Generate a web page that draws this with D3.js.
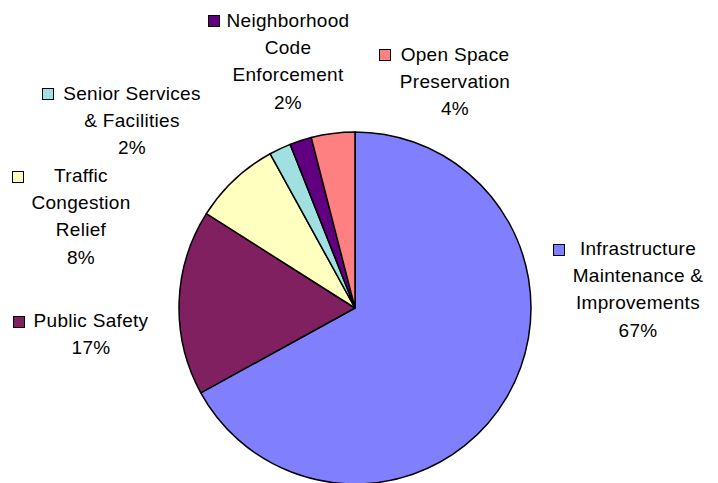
<!DOCTYPE html>
<html>
<head>
<meta charset="utf-8">
<script src="https://cdn.jsdelivr.net/npm/d3@7/dist/d3.min.js"></script>
<style>
  html, body { margin: 0; padding: 0; background: #fff; }
  svg { display: block; }
  text { font-family: "Liberation Sans", Arial, sans-serif; font-size: 19px; letter-spacing: 0.3px; fill: #000; }
</style>
</head>
<body>
<div id="chart"></div>
<script>
// Budget shares by category (percent), clockwise from 12 o'clock
const categories = [
  "Infrastructure\nMaintenance &\nImprovements",
  "Public Safety",
  "Traffic\nCongestion\nRelief",
  "Senior Services\n& Facilities",
  "Neighborhood\nCode\nEnforcement",
  "Open Space\nPreservation"
];
const values = [67, 17, 8, 2, 2, 4];
const colors = ["#8080FF", "#802060", "#FFFFC0", "#A0E0E0", "#600080", "#FF8080"];

// Label block placement: centre x of the text, first baseline, legend key corner
const labelLayout = [
  { cx: 638, y0: 255, kx: 553, ky: 244 },
  { cx: 91,  y0: 327, kx: 13,  ky: 316 },
  { cx: 81,  y0: 182, kx: 12,  ky: 171 },
  { cx: 132, y0: 100, kx: 42,  ky: 88 },
  { cx: 288, y0: 27,  kx: 208, ky: 15 },
  { cx: 455, y0: 61,  kx: 379, ky: 49 }
];

const W = 718, H = 483;
const cx = 355, cy = 308, R = 176;
const lineGap = 27.2;

const svg = d3.select("#chart").append("svg")
  .attr("width", W).attr("height", H);

const pie = d3.pie().sort(null).value(d => d.value);
const arc = d3.arc().innerRadius(0).outerRadius(R);

const data = categories.map((c, i) => ({ name: c, value: values[i], color: colors[i] }));

svg.append("g")
  .attr("transform", `translate(${cx},${cy})`)
  .selectAll("path")
  .data(pie(data))
  .join("path")
  .attr("d", arc)
  .attr("fill", d => d.data.color)
  .attr("stroke", "#000")
  .attr("stroke-width", 1.5)
  .attr("stroke-linejoin", "round");

const labels = svg.append("g").selectAll("g")
  .data(data)
  .join("g");

labels.append("rect")
  .attr("x", (d, i) => labelLayout[i].kx + 0.5)
  .attr("y", (d, i) => labelLayout[i].ky + 0.5)
  .attr("width", 11)
  .attr("height", 11)
  .attr("fill", d => d.color)
  .attr("stroke", "#000")
  .attr("stroke-width", 1);

labels.each(function (d, i) {
  const g = d3.select(this);
  const lines = d.name.split("\n").concat([d.value + "%"]);
  const L = labelLayout[i];
  g.selectAll("text.line")
    .data(lines)
    .join("text")
    .attr("class", "line")
    .attr("x", L.cx)
    .attr("y", (t, j) => L.y0 + j * lineGap)
    .attr("text-anchor", "middle")
    .text(t => t);
});
</script>
</body>
</html>
